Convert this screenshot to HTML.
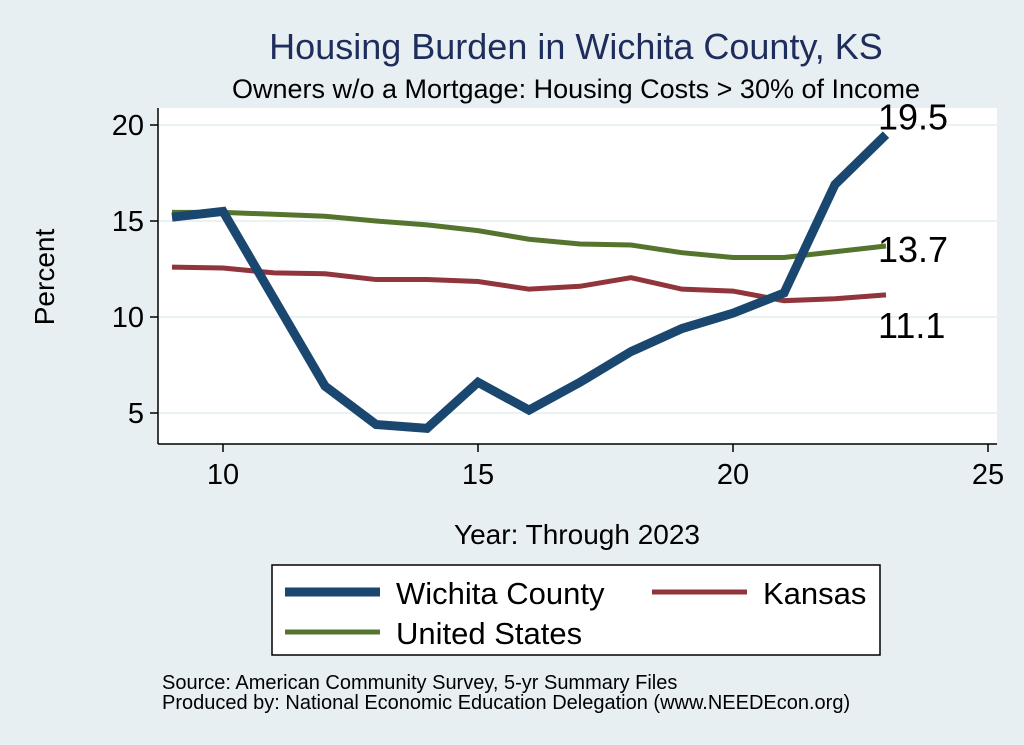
<!DOCTYPE html>
<html><head><meta charset="utf-8"><style>
body{margin:0;background:#e8eff2;}
svg{display:block;font-family:"Liberation Sans",Arial,sans-serif;}
</style></head><body>
<svg width="1024" height="745" viewBox="0 0 1024 745">
<rect x="0" y="0" width="1024" height="745" fill="#e8eff2"/>
<text x="576" y="59" text-anchor="middle" font-size="36" fill="#1e2d5c">Housing Burden in Wichita County, KS</text>
<text x="576" y="98" text-anchor="middle" font-size="27" fill="#000">Owners w/o a Mortgage: Housing Costs &gt; 30% of Income</text>
<rect x="158" y="108" width="839" height="336" fill="#fff"/>
<g id="grid"></g>
<line x1="158" y1="108" x2="158" y2="444" stroke="#000" stroke-width="1.5"/>
<line x1="158" y1="444" x2="997" y2="444" stroke="#000" stroke-width="1.5"/>
<g id="ticks"></g>
<g id="series"></g>
<g id="labels"></g>
<text x="54" y="277" text-anchor="middle" font-size="28" transform="rotate(-90 54 277)">Percent</text>
<text x="577" y="544" text-anchor="middle" font-size="28">Year: Through 2023</text>
<g>
<rect x="272" y="565" width="608" height="90" fill="#fff" stroke="#000" stroke-width="1.5"/>
<g><line x1="285" y1="592" x2="380" y2="592" stroke="#1a476f" stroke-width="9"/><text x="396" y="604" font-size="31">Wichita County</text></g>
<g><line x1="652" y1="592" x2="747" y2="592" stroke="#90353b" stroke-width="5"/><text x="763" y="604" font-size="31">Kansas</text></g>
<g><line x1="285" y1="632" x2="380" y2="632" stroke="#55752f" stroke-width="5"/><text x="396" y="644" font-size="31">United States</text></g>
</g>
<text x="162" y="689" font-size="20">Source: American Community Survey, 5-yr Summary Files</text>
<text x="162" y="709" font-size="20">Produced by: National Economic Education Delegation (www.NEEDEcon.org)</text>
</svg>
<script>
const years=[9,10,11,12,13,14,15,16,17,18,19,20,21,22,23];
const wichita=[15.2,15.5,null,6.4,4.4,4.2,6.6,5.15,6.6,8.2,9.4,10.2,11.25,16.9,19.5];
const kansas=[12.6,12.55,12.3,12.25,11.95,11.95,11.85,11.45,11.6,12.05,11.45,11.35,10.85,10.95,11.15];
const us=[15.45,15.45,15.35,15.25,15.0,14.8,14.5,14.05,13.8,13.75,13.35,13.1,13.1,13.4,13.7];
const xTicks=[10,15,20,25];
const yTicks=[5,10,15,20];
const endLabels=["19.5","13.7","11.1"];
const NS="http://www.w3.org/2000/svg";
const xs=v=>223+(v-10)*51;
const ys=v=>317-(v-10)*19.2;
function mk(tag,attrs,parent){const e=document.createElementNS(NS,tag);for(const k in attrs)e.setAttribute(k,attrs[k]);document.getElementById(parent).appendChild(e);return e;}
yTicks.forEach(t=>{
 const g=mk('line',{x1:158,x2:997,y1:ys(t),y2:ys(t),stroke:'#eaf2f3','stroke-width':2},'grid');
 
 
 const k=mk('line',{x1:150,x2:158,y1:ys(t),y2:ys(t),stroke:'#000','stroke-width':1.5},'ticks');
 
 
 const l=mk('text',{x:144,y:ys(t)+10,'text-anchor':'end','font-size':29},'ticks');
 l.textContent=t;
 
 
});
xTicks.forEach(t=>{
 const k=mk('line',{x1:xs(t),x2:xs(t),y1:444,y2:452,stroke:'#000','stroke-width':1.5},'ticks');
 
 
 const l=mk('text',{x:xs(t),y:484,'text-anchor':'middle','font-size':29},'ticks');
 l.textContent=t;
 
 
});
function line(vals,color,w,name){
 const pts=[];vals.forEach((v,i)=>{if(v!==null)pts.push(xs(years[i])+','+ys(v));});
 const p=mk('polyline',{points:pts.join(' '),fill:'none',stroke:color,'stroke-width':w,'stroke-linejoin':'miter'},'series');
 
 
}
line(kansas,'#90353b',5,'kansas-line');
line(us,'#55752f',5,'us-line');
line(wichita,'#1a476f',9,'wichita-line');
const n=years.length-1;
[[wichita[n],-5],[us[n],+16],[kansas[n],+43]].forEach((d,i)=>{
 const l=mk('text',{x:878,y:ys(d[0])+d[1],'font-size':36},'labels');
 l.textContent=endLabels[i];
 
 
});
</script>
</body></html>
